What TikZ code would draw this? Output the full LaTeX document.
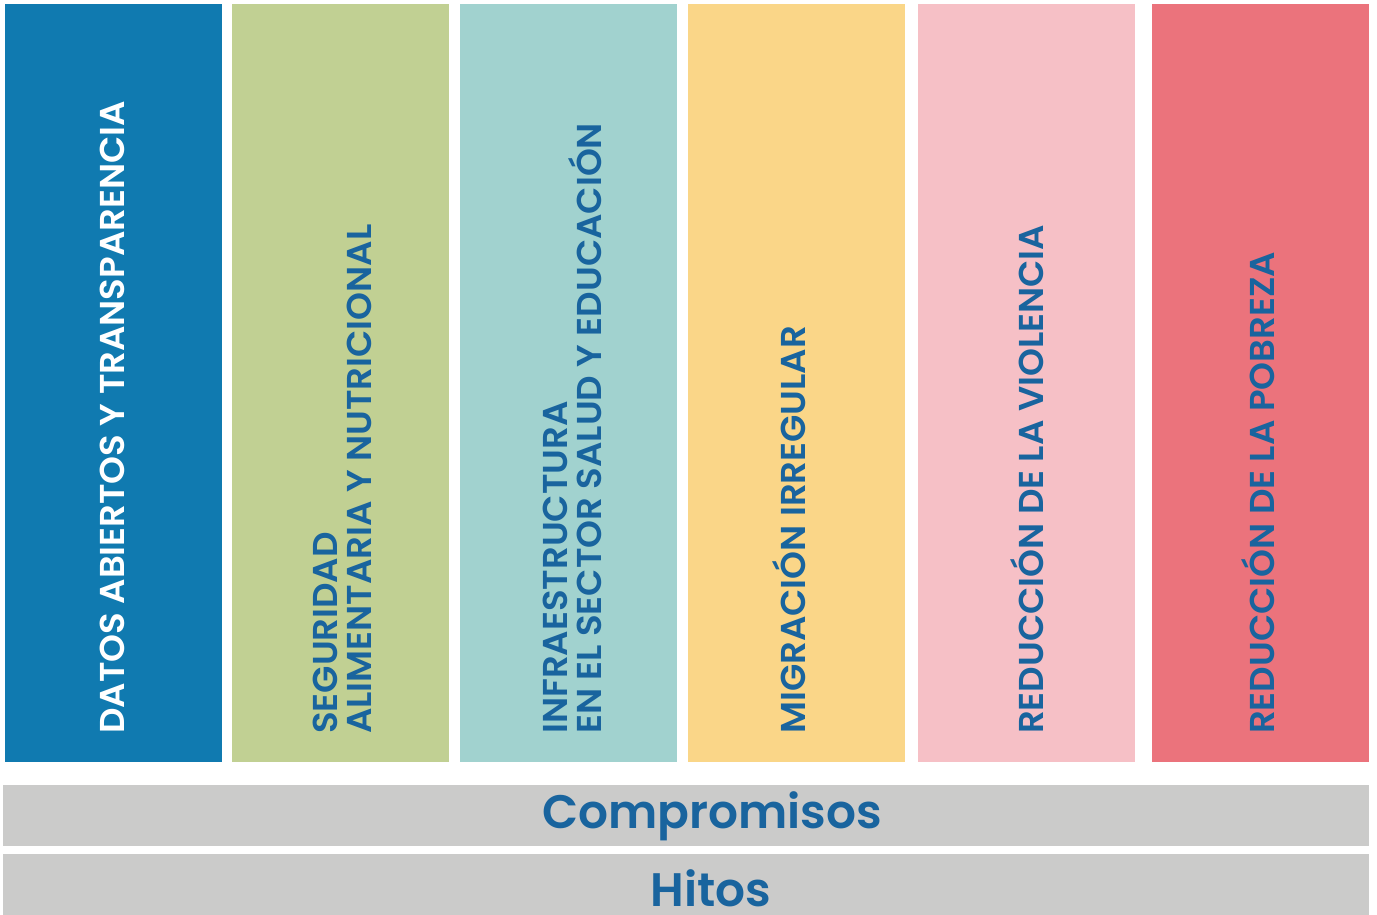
\documentclass[tikz,border=0pt]{standalone}
\usepackage{fontspec}
\setmainfont{Poppins}
\newfontfamily\semi{Poppins SemiBold}
\newfontfamily\semiwide{Poppins SemiBold}[FakeStretch=1.03]
\definecolor{cA}{HTML}{107AB0}
\definecolor{cB}{HTML}{C1D093}
\definecolor{cC}{HTML}{A1D2CF}
\definecolor{cD}{HTML}{FAD688}
\definecolor{cE}{HTML}{F6C0C6}
\definecolor{cF}{HTML}{EB737C}
\definecolor{gbar}{HTML}{CBCBCA}
\definecolor{tblue}{HTML}{19649E}
\begin{document}
\begin{tikzpicture}[x=1pt,y=1pt,
  colbox/.style={draw=none,inner sep=0pt,minimum width=217pt,minimum height=758pt},
  barbox/.style={fill=gbar,draw=none,inner sep=0pt,minimum width=1366pt,minimum height=61pt},
  vlabel/.style={rotate=90,anchor=south west,inner sep=0pt,align=left,text=tblue,
    font=\fontsize{34.5}{34}\semiwide},
  blabel/.style={text=tblue,inner sep=0pt,anchor=base,font=\fontsize{47}{50}\semi}]
\useasboundingbox (0,0) rectangle (1377,914);
\node[colbox,fill=cA] (c1) at (113.5,531) {};
\node[colbox,fill=cB] (c2) at (340.5,531) {};
\node[colbox,fill=cC] (c3) at (568.5,531) {};
\node[colbox,fill=cD] (c4) at (796.5,531) {};
\node[colbox,fill=cE] (c5) at (1026.5,531) {};
\node[colbox,fill=cF] (c6) at (1260.5,531) {};
\node[barbox] (b1) at (686,98.5) {};
\node[barbox,minimum height=62pt] (b2) at (686,29) {};
\node[vlabel,text=white] (t1) at (125,180) {DATOS ABIERTOS Y TRANSPARENCIA};
\node[vlabel] (t2) at (372,180) {SEGURIDAD\\ALIMENTARIA Y NUTRICIONAL};
\node[vlabel] (t3) at (602,180) {INFRAESTRUCTURA\\EN EL SECTOR SALUD Y EDUCACIÓN};
\node[vlabel] (t4) at (806,180) {MIGRACIÓN IRREGULAR};
\node[vlabel] (t5) at (1044,180) {REDUCCIÓN DE LA VIOLENCIA};
\node[vlabel] (t6) at (1275,180) {REDUCCIÓN DE LA POBREZA};
\node[blabel] (l1) at (712,86) {Compromisos};
\node[blabel] (l2) at (711,8) {Hitos};
\end{tikzpicture}
\end{document}
